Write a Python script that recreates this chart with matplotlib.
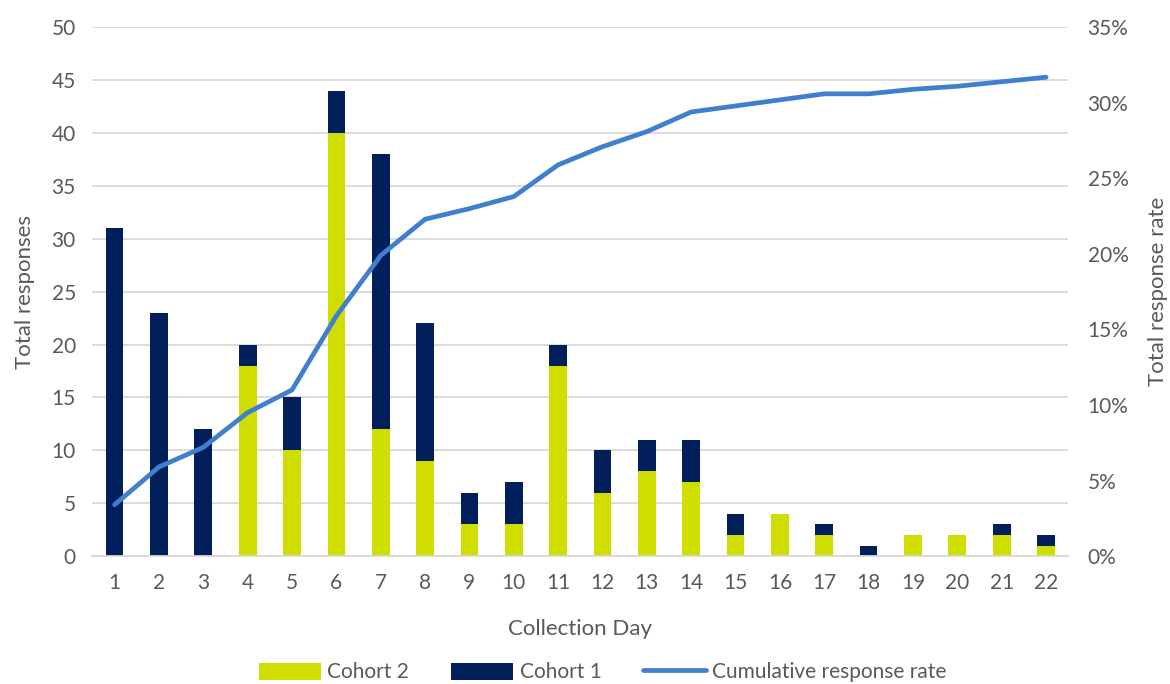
import matplotlib.pyplot as plt
from matplotlib.ticker import PercentFormatter

plt.rcParams['font.family'] = ['Lato', 'DejaVu Sans']

days = list(range(1, 23))
cohort2 = [0, 0, 0, 18, 10, 40, 12, 9, 3, 3, 18, 6, 8, 7, 2, 4, 2, 0, 2, 2, 2, 1]
cohort1 = [31, 23, 12, 2, 5, 4, 26, 13, 3, 4, 2, 4, 3, 4, 2, 0, 1, 1, 0, 0, 1, 1]
cum_rate = [0.034, 0.059, 0.072, 0.095, 0.110, 0.159, 0.199, 0.223, 0.230, 0.238,
            0.259, 0.271, 0.281, 0.294, 0.298, 0.302, 0.306, 0.306, 0.309, 0.311,
            0.314, 0.317]

txt = '#595959'
fig = plt.figure(figsize=(11.7, 6.84), dpi=100)
ax = fig.add_axes([0.079, 0.187, 0.834, 0.773])

b2 = ax.bar(days, cohort2, width=0.4, color='#CFDD00', label='Cohort 2', zorder=2)
b1 = ax.bar(days, cohort1, width=0.4, bottom=cohort2, color='#001F5B',
            label='Cohort 1', zorder=2)
ax.set_ylim(0, 50)
ax.set_yticks(range(0, 51, 5))
ax.set_xlim(0.5, 22.5)
ax.set_xticks(days)
ax.grid(axis='y', color='#D9D9D9', linewidth=1.3, zorder=0)
ax.set_axisbelow(True)
for s in ['top', 'right', 'left']:
    ax.spines[s].set_visible(False)
ax.spines['bottom'].set_color('#D9D9D9')
ax.spines['bottom'].set_linewidth(1.3)
ax.tick_params(length=0, labelsize=15, labelcolor=txt, pad=12)
ax.set_xlabel('Collection Day', fontsize=16, color=txt, labelpad=19)
ax.set_ylabel('Total responses', fontsize=16, color=txt, labelpad=12)

ax2 = ax.twinx()
ln, = ax2.plot(days, cum_rate, color='#3F7FCD', linewidth=3.4,
               label='Cumulative response rate', solid_capstyle='round')
ax2.set_ylim(0, 0.35)
ax2.set_yticks([i * 0.05 for i in range(8)])
ax2.yaxis.set_major_formatter(PercentFormatter(1.0, decimals=0))
for s in ax2.spines.values():
    s.set_visible(False)
ax2.tick_params(length=0, labelsize=15, labelcolor=txt, pad=14)
ax2.set_ylabel('Total response rate', fontsize=16, color=txt, labelpad=14)

fig.legend(handles=[b2, b1, ln], loc='lower center', ncol=3, frameon=False,
           fontsize=15, labelcolor=txt, bbox_to_anchor=(0.515, -0.025),
           handlelength=3.0, handleheight=0.9, columnspacing=2.0, handletextpad=0.3)

fig.savefig('out.png', dpi=100)
